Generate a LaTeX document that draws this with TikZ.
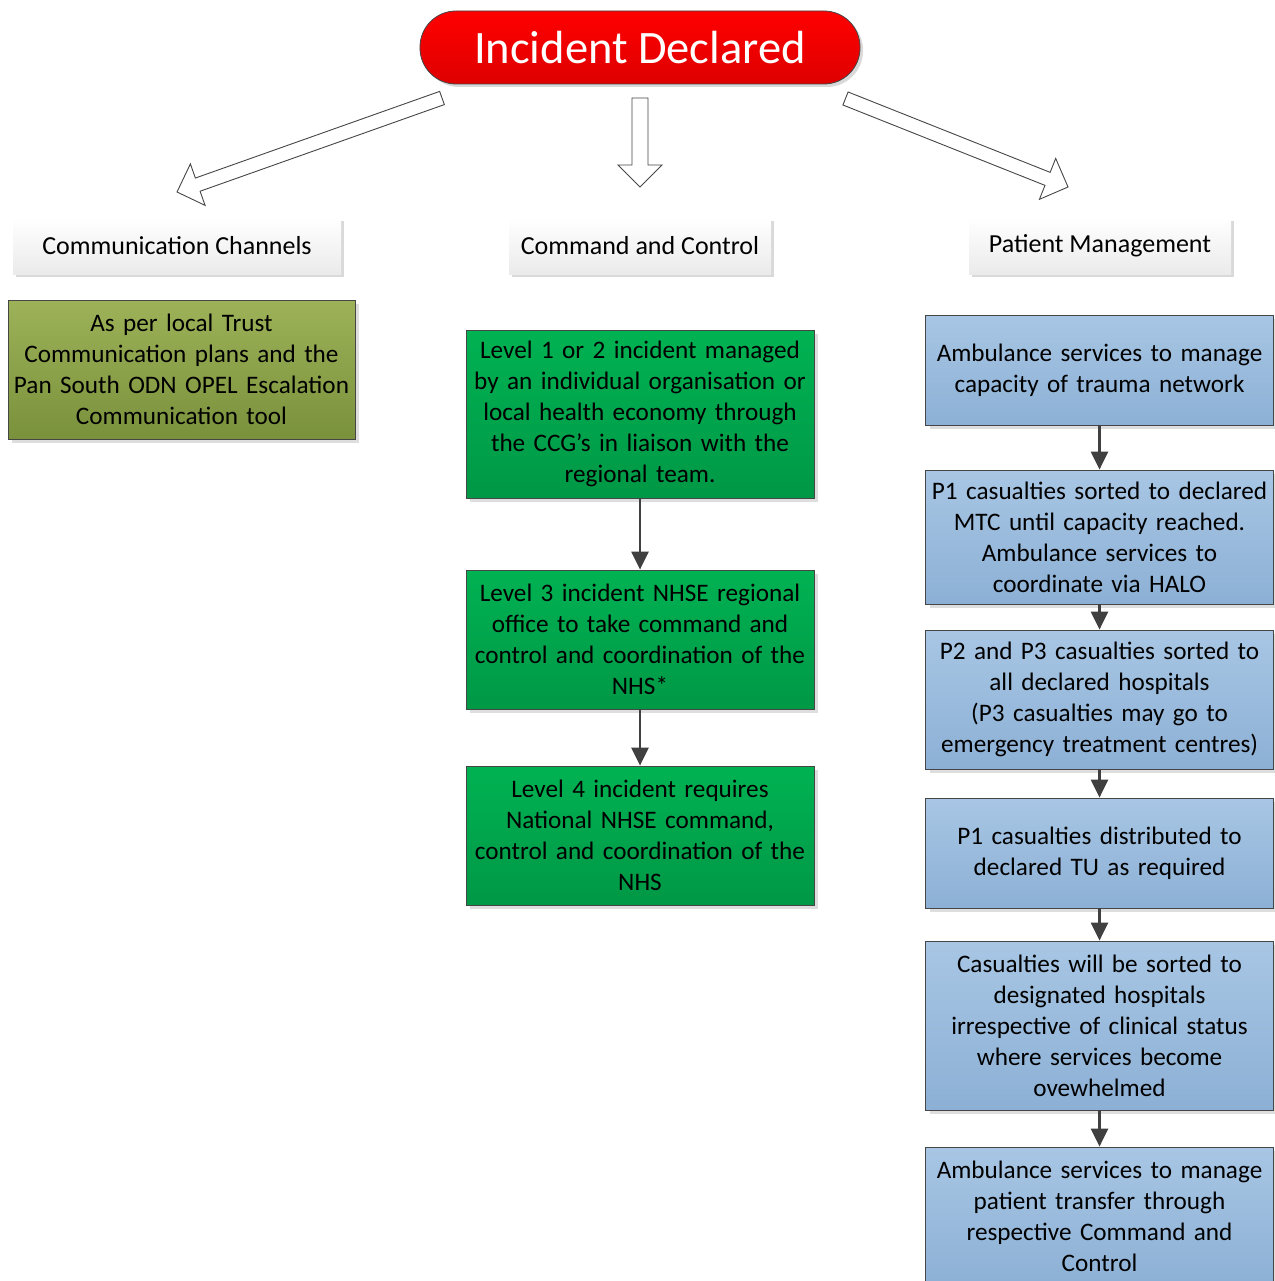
\documentclass[tikz,border=0pt]{standalone}
\usepackage{fontspec}
\setmainfont{Carlito}
\usetikzlibrary{arrows.meta,calc,shadows}
\definecolor{arrowgray}{RGB}{64,64,64}
\definecolor{redtop}{RGB}{255,0,0}
\definecolor{redbot}{RGB}{222,0,0}
\definecolor{olivetop}{RGB}{157,178,88}
\definecolor{olivebot}{RGB}{122,145,60}
\definecolor{greentop}{RGB}{0,178,82}
\definecolor{greenbot}{RGB}{0,152,70}
\definecolor{bluetop}{RGB}{168,198,228}
\definecolor{bluebot}{RGB}{140,176,213}
\definecolor{edgegray}{RGB}{70,70,70}
\tikzset{
  x=1pt, y=-1pt,
  boxshadow/.style={drop shadow={shadow xshift=4pt, shadow yshift=-4pt, fill=black!13, opacity=1}},
  basebox/.style={rectangle, align=center, inner sep=2pt, font=\fontsize{25.2}{31}\selectfont, boxshadow, draw=edgegray, line width=0.8pt},
  headerbox/.style={rectangle, align=center, font=\fontsize{26}{31}\selectfont, top color=white, bottom color=black!8, draw=none, drop shadow={shadow xshift=3pt, shadow yshift=-3pt, fill=black!15, opacity=1}, minimum height=56pt},
  olivebox/.style={basebox, top color=olivetop, bottom color=olivebot, minimum width=347pt, text width=343pt},
  greenbox/.style={basebox, top color=greentop, bottom color=greenbot, minimum width=348pt, text width=344pt},
  bluebox/.style={basebox, top color=bluetop, bottom color=bluebot, minimum width=347pt, text width=344pt},
  flow/.style={draw=arrowgray, line width=2.4pt, -{Triangle[width=17pt,length=18pt]}},
  blockarrow/.style={draw=edgegray, line width=0.9pt, fill=white, line join=miter},
}
\newcommand\blockarr[4]{% tail, tip, shaft half width, head half width
  \coordinate (hb) at ($(#2)!22pt!(#1)$);
  \path[blockarrow] ($(#1)!#3!90:(#2)$) -- ($(hb)!#3!-90:(#1)$) -- ($(hb)!#4!-90:(#1)$) -- (#2)
    -- ($(hb)!#4!90:(#1)$) -- ($(hb)!#3!90:(#1)$) -- ($(#1)!#3!-90:(#2)$) -- cycle;
}
\begin{document}
\begin{tikzpicture}
\useasboundingbox (0,0) rectangle (1274,1281);
\fill[white] (0,0) rectangle (1274,1281);

% title
\node[rectangle, rounded corners=36pt, minimum width=440pt, minimum height=73pt,
  top color=redtop, bottom color=redbot, draw=edgegray, line width=0.8pt,
  drop shadow={shadow xshift=3pt, shadow yshift=-3pt, fill=black!15, opacity=1},
  text=white, font=\fontsize{46.5}{52}\selectfont] (title) at (640,47.5) {Incident Declared};

% block arrows
\coordinate (la1) at (442,98);  \coordinate (la2) at (177,192);
\coordinate (ma1) at (640,98);  \coordinate (ma2) at (640,187);
\coordinate (ra1) at (845.5,98.5); \coordinate (ra2) at (1068,187);
\blockarr{la1}{la2}{7pt}{22pt}
\blockarr{ma1}{ma2}{8pt}{22pt}
\blockarr{ra1}{ra2}{7pt}{22pt}

% headers
\node[headerbox, minimum width=328pt] (h1) at (177,246) {Communication Channels};
\node[headerbox, minimum width=262pt] (h2) at (640,246) {Command and Control};
\node[headerbox, minimum width=262pt] (h3) at (1100,246) {Patient Management};

% left column
\node[olivebox, minimum height=139pt] (o1) at (181.5,369.5) {As per local Trust\\Communication plans and the\\Pan South ODN OPEL Escalation\\Communication tool};

% middle column
\node[greenbox, minimum height=168pt] (g1) at (640,414) {Level 1 or 2 incident managed\\by an individual organisation or\\local health economy through\\the CCG’s in liaison with the\\regional team.};
\node[greenbox, minimum height=139pt] (g2) at (640,639.5) {Level 3 incident NHSE regional\\office to take command and\\control and coordination of the\\NHS*};
\node[greenbox, minimum height=139pt] (g3) at (640,835.5) {Level 4 incident requires\\National NHSE command,\\control and coordination of the\\NHS};

% right column
\node[bluebox, minimum height=110pt] (b1) at (1099.5,370) {Ambulance services to manage\\capacity of trauma network};
\node[bluebox, minimum height=134pt] (b2) at (1099.5,537) {P1 casualties sorted to declared\\MTC until capacity reached.\\Ambulance services to\\coordinate via HALO};
\node[bluebox, minimum height=139pt] (b3) at (1099.5,699.5) {P2 and P3 casualties sorted to\\all declared hospitals\\(P3 casualties may go to\\emergency treatment centres)};
\node[bluebox, minimum height=110pt] (b4) at (1099.5,853) {P1 casualties distributed to\\declared TU as required};
\node[bluebox, minimum height=169pt] (b5) at (1099.5,1025.5) {Casualties will be sorted to\\designated hospitals\\irrespective of clinical status\\where services become\\ovewhelmed};
\node[bluebox, minimum height=139pt] (b6) at (1099.5,1216.5) {Ambulance services to manage\\patient transfer through\\respective Command and\\Control};

% connectors
\draw[flow] (g1) -- (g2);
\draw[flow] (g2) -- (g3);
\draw[flow] (b1) -- (b2);
\draw[flow] (b2) -- (b3);
\draw[flow] (b3) -- (b4);
\draw[flow] (b4) -- (b5);
\draw[flow] (b5) -- (b6);
\end{tikzpicture}
\end{document}
